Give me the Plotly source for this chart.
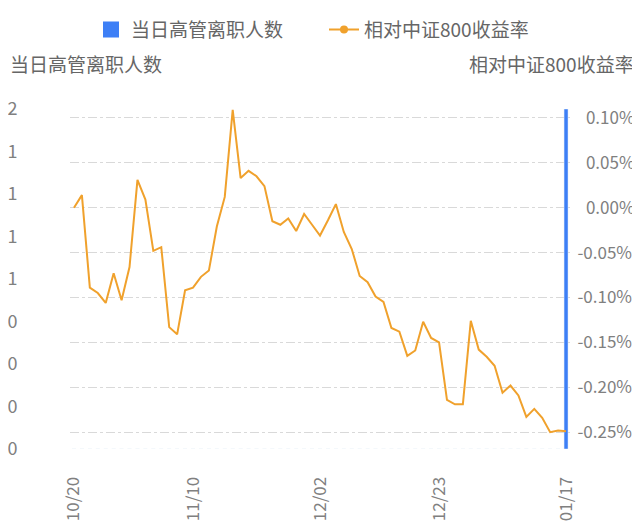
import plotly.graph_objects as go

# trading days shown on the category axis
dates = ['10/20', '10/21', '10/24', '10/25', '10/26', '10/27', '10/28', '10/31',
         '11/01', '11/02', '11/03', '11/04', '11/07', '11/08', '11/09', '11/10',
         '11/11', '11/14', '11/15', '11/16', '11/17', '11/18', '11/21', '11/22',
         '11/23', '11/24', '11/25', '11/28', '11/29', '11/30', '12/01', '12/02',
         '12/05', '12/06', '12/07', '12/08', '12/09', '12/12', '12/13', '12/14',
         '12/15', '12/16', '12/19', '12/20', '12/21', '12/22', '12/23', '12/26',
         '12/27', '12/28', '12/29', '12/30', '01/03', '01/04', '01/05', '01/06',
         '01/09', '01/10', '01/11', '01/12', '01/13', '01/16', '01/17']

# 当日高管离职人数
leavers = [0] * 62 + [2]

# 相对中证800收益率 (%)
rel_return = [0.000, 0.014, -0.089, -0.095, -0.106, -0.073, -0.103, -0.066,
              0.031, 0.009, -0.048, -0.044, -0.133, -0.141, -0.092, -0.089,
              -0.077, -0.070, -0.021, 0.012, 0.109, 0.033, 0.041, 0.035,
              0.024, -0.015, -0.019, -0.012, -0.026, -0.007, -0.019, -0.031,
              -0.014, 0.004, -0.027, -0.046, -0.076, -0.083, -0.099, -0.105,
              -0.134, -0.138, -0.165, -0.159, -0.127, -0.145, -0.150, -0.214,
              -0.219, -0.219, -0.126, -0.158, -0.166, -0.176, -0.206, -0.198,
              -0.209, -0.233, -0.224, -0.234, -0.250, -0.248, -0.249]

x_ticks = ['10/20', '11/10', '12/02', '12/23', '01/17']
left_tick_vals = [0, 0.25, 0.5, 0.75, 1, 1.25, 1.5, 1.75, 2]
left_tick_text = ['0', '0', '0', '0', '1', '1', '1', '1', '2']
right_tick_vals = [0.10, 0.05, 0.0, -0.05, -0.10, -0.15, -0.20, -0.25]
right_tick_text = ['0.10%', '0.05%', '0.00%', '-0.05%', '-0.10%', '-0.15%', '-0.20%', '-0.25%']

blue = '#3d7ff6'
orange = '#f0a12c'
grey = '#808080'
font = 'Noto Sans CJK SC'

# the page body adds an 8px margin, so the figure is 8px smaller each way
W, H = 632, 518
L, R, T, B = 62, 70, 101, 77
pw, ph = W - L - R, H - T - B

# right axis labels are right-aligned in the original: pad the ones without a minus sign
right_labels = [t if t.startswith('-') else '\u2002' + t for t in right_tick_text]

fig = go.Figure()

fig.add_trace(go.Bar(
    x=dates, y=leavers, name='当日高管离职人数',
    marker_color=blue, width=0.5, cliponaxis=False, showlegend=False,
))
fig.add_trace(go.Scatter(
    x=dates, y=rel_return, name='相对中证800收益率', yaxis='y2',
    mode='lines', line=dict(color=orange, width=2), showlegend=False,
))

# legend-only entries
fig.add_trace(go.Scatter(
    x=[None], y=[None], name='当日高管离职人数', mode='markers',
    marker=dict(symbol='square', size=16, color=blue),
))
fig.add_trace(go.Scatter(
    x=[None], y=[None], name='相对中证800收益率', mode='lines+markers', yaxis='y2',
    marker=dict(size=8, color=orange), line=dict(color=orange, width=2),
))

fig.update_layout(
    width=W, height=H,
    margin=dict(l=L, r=R, t=T, b=B, autoexpand=False),
    paper_bgcolor='white', plot_bgcolor='white',
    font=dict(family=font, color=grey, size=16),
    legend=dict(
        orientation='h', xref='container', yref='container',
        x=83 / W, xanchor='left', y=0.995, yanchor='top',
        entrywidth=188, entrywidthmode='pixels',
        font=dict(size=19, color='#666666'),
    ),
    xaxis=dict(
        type='category', range=[-0.5, 62.5], automargin=False,
        tickvals=x_ticks, ticktext=x_ticks, tickangle=-90,
        ticks='outside', ticklen=20, tickcolor='rgba(0,0,0,0)',
        showgrid=False, showline=False, zeroline=False,
        tickfont=dict(size=17, color=grey),
    ),
    yaxis=dict(
        range=[0, 2], tickvals=left_tick_vals, ticktext=left_tick_text,
        automargin=False,
        ticks='outside', ticklen=48, tickcolor='rgba(0,0,0,0)',
        showgrid=False, zeroline=False, showline=False,
        tickfont=dict(size=18, color=grey),
    ),
    yaxis2=dict(
        overlaying='y', side='right', range=[-0.2687, 0.1099],
        tickvals=right_tick_vals, ticktext=right_labels, automargin=False,
        showgrid=True, gridcolor='#d9d9d9', griddash='dashdot', gridwidth=1,
        zeroline=False, showline=False,
        ticks='outside', ticklen=3, tickcolor='rgba(0,0,0,0)',
        tickfont=dict(size=17, color=grey),
    ),
    annotations=[
        dict(text='当日高管离职人数', xref='paper', yref='paper',
             x=-L / pw, y=1 + 46 / ph, xanchor='left', yanchor='middle',
             showarrow=False, font=dict(size=19, color='#666666')),
        dict(text='相对中证800收益率', xref='paper', yref='paper',
             x=1 + 66 / pw, y=1 + 46 / ph, xanchor='right', yanchor='middle',
             showarrow=False, font=dict(size=19, color='#666666')),
    ],
)

fig.write_html('out.html')
